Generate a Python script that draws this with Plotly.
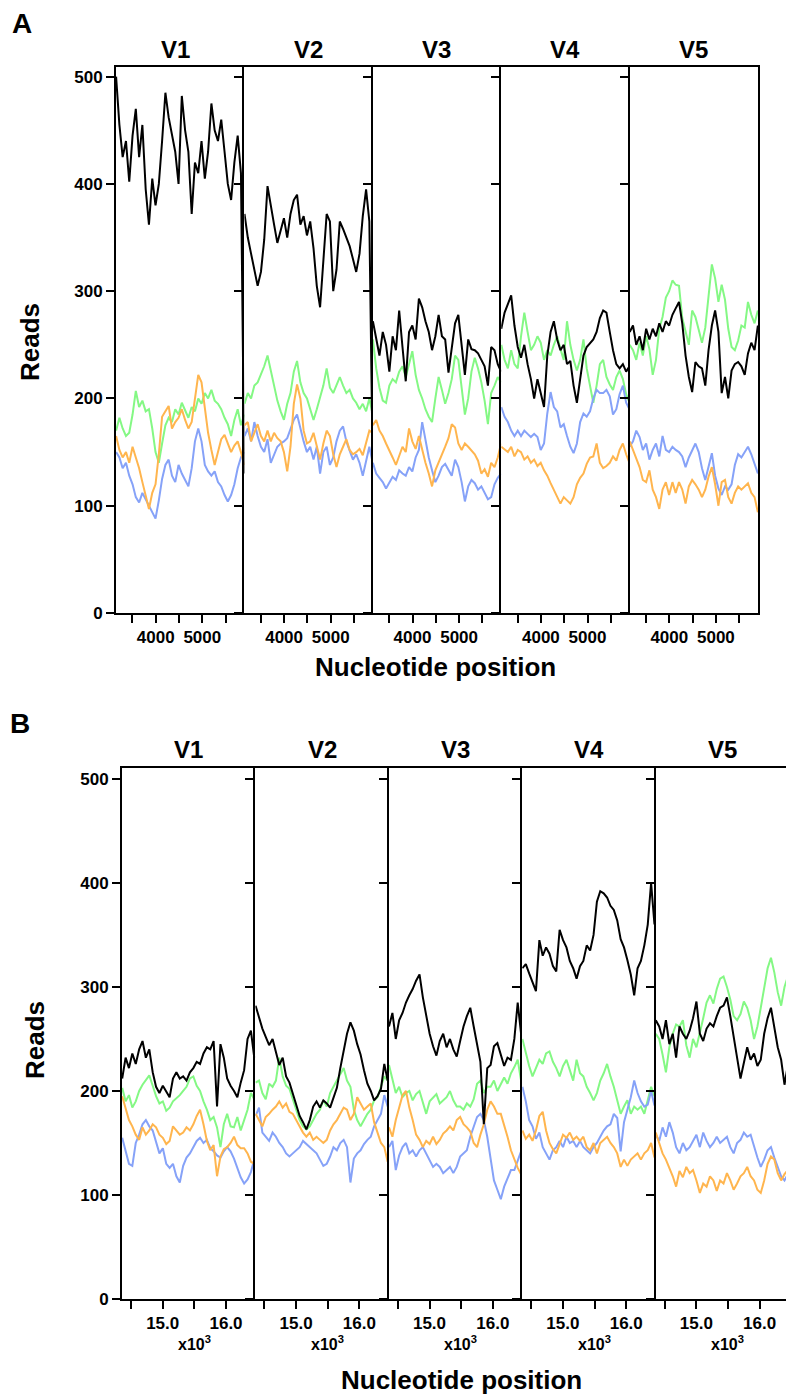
import plotly.graph_objects as go

W, H = 786, 1398

# ---------------- data ----------------
VARIANTS = ["V1", "V2", "V3", "V4", "V5"]
SERIES = ["green", "blue", "orange", "black"]

POS_A = [3150, 3221, 3291, 3362, 3432, 3503, 3573, 3644, 3714, 3785,
         3855, 3926, 3996, 4067, 4137, 4208, 4278, 4349, 4419, 4490,
         4560, 4631, 4701, 4772, 4842, 4913, 4983, 5054, 5124, 5195,
         5265, 5336, 5406, 5477, 5547, 5618, 5688, 5759, 5829, 5900]
POS_B = [14360, 14414, 14467, 14520, 14574, 14628, 14681, 14734, 14788, 14842,
         14895, 14948, 15002, 15056, 15109, 15162, 15216, 15270, 15323, 15376,
         15430, 15484, 15537, 15590, 15644, 15698, 15751, 15804, 15858, 15912,
         15965, 16018, 16072, 16126, 16179, 16232, 16286, 16340, 16393, 16446]

TICKS_A = [4000, 5000]
TICKTEXT_A = ["4000", "5000"]
MINOR_A = [3500, 4500, 5500]
TICKS_B = [15000, 16000]
TICKTEXT_B = ["15.0", "16.0"]
MINOR_B = [14500, 15500]
Y_TICKS = [0, 100, 200, 300, 400, 500]

# Panel A
A_V1_black = [500, 455, 425, 440, 402, 445, 470, 425, 455, 395, 362, 405, 380, 400, 440, 485, 462, 445, 430, 400,
              482, 450, 430, 372, 420, 410, 440, 405, 430, 475, 450, 440, 460, 430, 400, 385, 420, 445, 410, 130]
A_V1_green = [170, 182, 172, 165, 168, 185, 207, 192, 198, 188, 190, 172, 150, 140, 158, 175, 182, 178, 190, 185,
              196, 188, 182, 192, 188, 200, 195, 205, 200, 208, 198, 195, 190, 182, 176, 165, 180, 190, 175, 185]
A_V1_orange = [165, 152, 145, 150, 140, 155, 145, 135, 122, 108, 97, 112, 120, 148, 183, 188, 193, 172, 178, 182,
               190, 180, 172, 178, 200, 222, 215, 190, 168, 152, 138, 150, 162, 166, 158, 150, 156, 160, 150, 138]
A_V1_blue = [150, 145, 135, 140, 128, 120, 108, 103, 112, 106, 100, 94, 88, 105, 125, 138, 143, 128, 122, 138,
             130, 124, 118, 135, 160, 172, 160, 138, 132, 128, 132, 122, 118, 110, 104, 110, 120, 135, 145, 150]

A_V2_black = [372, 350, 335, 318, 305, 318, 348, 398, 378, 362, 345, 358, 368, 350, 372, 385, 390, 362, 370, 352,
              365, 340, 305, 285, 330, 372, 365, 300, 320, 365, 358, 350, 342, 330, 318, 335, 370, 395, 365, 140]
A_V2_green = [195, 205, 200, 212, 215, 222, 230, 240, 225, 212, 198, 188, 180, 195, 205, 225, 235, 215, 205, 200,
              190, 180, 190, 200, 212, 228, 210, 205, 212, 220, 212, 205, 208, 200, 196, 190, 195, 188, 200, 185]
A_V2_orange = [175, 178, 160, 168, 176, 165, 160, 170, 160, 168, 163, 160, 150, 132, 155, 195, 213, 200, 170, 158,
               160, 168, 155, 143, 158, 170, 165, 148, 136, 148, 155, 162, 152, 148, 150, 153, 147, 160, 170, 168]
A_V2_blue = [165, 172, 160, 178, 165, 155, 150, 162, 140, 148, 155, 158, 160, 163, 172, 180, 185, 172, 160, 150,
             155, 143, 155, 130, 150, 155, 138, 145, 160, 170, 174, 160, 152, 143, 148, 140, 128, 142, 155, 140]

A_V3_black = [272, 255, 240, 262, 250, 225, 258, 245, 282, 248, 216, 262, 268, 255, 293, 285, 272, 262, 245, 258,
              278, 258, 255, 224, 248, 270, 278, 252, 222, 255, 246, 245, 242, 236, 230, 212, 248, 245, 232, 225]
A_V3_green = [255, 228, 210, 198, 196, 212, 218, 215, 225, 230, 220, 232, 244, 222, 208, 200, 190, 183, 178, 200,
              220, 208, 195, 205, 218, 240, 236, 210, 185, 200, 225, 238, 228, 215, 198, 176, 205, 212, 220, 215]
A_V3_orange = [175, 180, 170, 165, 158, 152, 145, 138, 146, 155, 150, 172, 160, 153, 165, 152, 140, 130, 118, 133,
               140, 148, 155, 163, 176, 173, 158, 152, 158, 155, 152, 148, 142, 130, 134, 127, 140, 136, 145, 158]
A_V3_blue = [140, 130, 126, 122, 116, 122, 127, 124, 133, 130, 128, 136, 132, 145, 152, 178, 162, 145, 133, 122,
             128, 136, 139, 133, 128, 143, 136, 122, 104, 118, 124, 121, 115, 118, 112, 106, 108, 120, 126, 130]

A_V4_black = [265, 280, 288, 296, 268, 248, 238, 250, 232, 218, 200, 218, 205, 192, 240, 262, 272, 255, 245, 250,
              232, 235, 212, 196, 218, 240, 248, 252, 255, 262, 275, 282, 280, 262, 245, 232, 228, 232, 225, 230]
A_V4_green = [250, 236, 228, 245, 232, 228, 258, 280, 262, 245, 250, 258, 252, 236, 245, 240, 250, 258, 246, 236,
              272, 250, 236, 226, 236, 255, 228, 210, 196, 212, 232, 236, 220, 213, 208, 220, 226, 218, 204, 196]
A_V4_orange = [155, 152, 150, 155, 146, 152, 150, 143, 146, 140, 143, 137, 140, 133, 128, 121, 115, 108, 102, 108,
               105, 102, 108, 120, 126, 130, 139, 145, 146, 158, 140, 135, 137, 140, 146, 142, 152, 158, 148, 140]
A_V4_blue = [192, 183, 178, 170, 165, 170, 165, 170, 167, 164, 167, 164, 152, 158, 186, 206, 192, 188, 173, 176,
             165, 155, 149, 158, 178, 186, 183, 188, 200, 208, 205, 205, 208, 202, 185, 190, 204, 212, 196, 190]

A_V5_black = [262, 268, 250, 258, 245, 265, 255, 265, 258, 270, 262, 272, 268, 278, 284, 290, 270, 240, 220, 206,
              234, 230, 228, 212, 245, 268, 282, 262, 205, 220, 200, 226, 232, 234, 230, 222, 242, 252, 245, 268]
A_V5_green = [250, 245, 236, 252, 240, 258, 246, 222, 236, 265, 276, 294, 300, 310, 306, 305, 275, 262, 250, 282,
              276, 264, 252, 266, 296, 325, 312, 290, 306, 292, 265, 248, 245, 254, 268, 266, 290, 278, 270, 282]
A_V5_orange = [160, 152, 145, 136, 124, 122, 133, 115, 108, 97, 115, 122, 110, 122, 112, 122, 115, 102, 118, 124,
               120, 115, 108, 115, 127, 136, 120, 100, 122, 124, 108, 102, 112, 118, 115, 118, 121, 112, 108, 94]
A_V5_blue = [155, 160, 170, 164, 152, 158, 143, 152, 158, 146, 165, 152, 150, 155, 152, 150, 146, 136, 145, 152,
             158, 150, 135, 124, 136, 149, 128, 116, 110, 118, 115, 120, 138, 148, 145, 150, 155, 148, 140, 130]

# Panel B
B_V1_black = [212, 232, 222, 236, 226, 240, 248, 232, 240, 218, 204, 198, 205, 200, 194, 212, 218, 212, 214, 210,
              218, 222, 228, 226, 236, 242, 240, 248, 185, 245, 232, 212, 205, 200, 194, 208, 220, 250, 258, 232]
B_V1_green = [203, 190, 196, 184, 190, 200, 206, 210, 215, 205, 195, 188, 190, 181, 184, 190, 193, 196, 200, 204,
              212, 214, 205, 200, 190, 182, 172, 175, 165, 146, 168, 178, 166, 165, 175, 162, 172, 182, 198, 192]
B_V1_orange = [195, 184, 172, 166, 158, 153, 165, 158, 162, 168, 165, 158, 155, 149, 152, 166, 162, 158, 160, 165,
               162, 168, 176, 182, 168, 152, 143, 148, 118, 137, 144, 146, 150, 156, 148, 145, 145, 140, 132, 130]
B_V1_blue = [155, 142, 130, 128, 150, 158, 168, 172, 166, 162, 152, 140, 145, 130, 126, 130, 118, 112, 128, 136,
             140, 146, 152, 155, 150, 153, 145, 142, 138, 136, 142, 146, 142, 135, 126, 117, 111, 115, 122, 134]

B_V2_black = [282, 270, 260, 252, 244, 250, 238, 225, 232, 214, 208, 198, 186, 176, 170, 163, 172, 185, 190, 184,
              191, 188, 184, 193, 203, 222, 240, 255, 266, 258, 245, 235, 220, 207, 200, 191, 195, 202, 226, 210]
B_V2_green = [208, 210, 198, 192, 207, 204, 210, 232, 214, 205, 202, 192, 182, 172, 166, 163, 166, 172, 178, 182,
              191, 185, 198, 204, 210, 217, 222, 210, 204, 182, 172, 166, 172, 178, 182, 191, 194, 204, 214, 210]
B_V2_orange = [178, 172, 166, 175, 178, 182, 185, 190, 184, 188, 180, 178, 172, 165, 160, 156, 160, 153, 156, 153,
               150, 153, 162, 168, 172, 178, 184, 182, 172, 178, 194, 188, 182, 185, 188, 170, 160, 150, 146, 132]
B_V2_blue = [176, 184, 160, 156, 152, 160, 156, 150, 146, 140, 137, 140, 143, 146, 152, 149, 146, 143, 140, 134,
             128, 130, 137, 146, 143, 150, 153, 146, 112, 135, 140, 143, 149, 153, 156, 166, 172, 178, 196, 185]

B_V3_black = [262, 275, 250, 268, 275, 285, 292, 298, 306, 312, 290, 272, 255, 243, 234, 248, 255, 242, 250, 240,
              233, 248, 262, 272, 280, 262, 244, 228, 168, 222, 225, 243, 246, 236, 224, 232, 230, 250, 285, 255]
B_V3_green = [225, 210, 198, 204, 194, 198, 200, 191, 197, 200, 188, 178, 190, 194, 197, 188, 191, 194, 200, 191,
              185, 185, 182, 188, 185, 192, 207, 210, 198, 204, 204, 210, 200, 207, 213, 207, 217, 223, 230, 210]
B_V3_orange = [165, 156, 172, 185, 196, 200, 184, 172, 158, 153, 146, 152, 149, 156, 149, 153, 159, 162, 166, 162,
               172, 175, 168, 165, 161, 150, 146, 158, 168, 182, 190, 185, 178, 178, 168, 156, 143, 134, 126, 120]
B_V3_blue = [146, 152, 124, 138, 146, 150, 140, 143, 137, 143, 146, 140, 134, 127, 130, 127, 121, 124, 127, 121,
             127, 137, 140, 143, 156, 166, 175, 178, 172, 156, 134, 114, 105, 96, 108, 116, 124, 124, 134, 142]

B_V4_black = [318, 322, 313, 305, 296, 345, 330, 338, 332, 320, 315, 355, 345, 338, 325, 318, 308, 320, 325, 340,
              335, 350, 382, 392, 390, 386, 378, 374, 364, 346, 338, 326, 312, 292, 318, 325, 340, 360, 400, 360]
B_V4_green = [250, 236, 224, 214, 222, 230, 226, 236, 238, 228, 222, 214, 224, 230, 220, 210, 230, 217, 214, 204,
              198, 191, 198, 210, 217, 226, 214, 204, 191, 178, 185, 191, 178, 185, 182, 185, 178, 191, 204, 195]
B_V4_orange = [162, 154, 158, 152, 162, 176, 180, 162, 150, 144, 140, 150, 158, 155, 160, 153, 156, 152, 156, 146,
               143, 150, 140, 150, 153, 156, 150, 146, 140, 127, 134, 128, 134, 137, 140, 134, 140, 143, 150, 136]
B_V4_blue = [204, 190, 172, 166, 154, 160, 146, 140, 134, 143, 146, 152, 146, 156, 150, 152, 146, 152, 146, 143,
             140, 146, 150, 156, 162, 166, 168, 178, 174, 142, 170, 182, 194, 210, 198, 190, 185, 187, 200, 186]

B_V5_black = [268, 262, 250, 268, 245, 255, 232, 262, 255, 250, 258, 270, 286, 255, 248, 260, 265, 262, 272, 280,
              282, 290, 272, 250, 232, 212, 228, 242, 230, 236, 224, 230, 255, 270, 280, 262, 242, 230, 206, 225]
B_V5_green = [255, 250, 235, 218, 242, 255, 264, 262, 268, 244, 232, 250, 242, 255, 270, 285, 292, 284, 298, 308,
              310, 300, 288, 272, 268, 274, 286, 280, 268, 250, 262, 280, 300, 318, 328, 314, 295, 282, 300, 310]
B_V5_orange = [160, 150, 140, 134, 126, 118, 108, 123, 117, 127, 121, 124, 114, 102, 111, 108, 118, 114, 104, 114,
               111, 121, 114, 105, 111, 118, 121, 127, 118, 114, 105, 102, 114, 130, 137, 134, 121, 114, 120, 124]
B_V5_blue = [158, 152, 165, 156, 170, 160, 146, 140, 150, 143, 146, 152, 158, 146, 160, 152, 146, 150, 156, 150,
             153, 156, 146, 140, 150, 153, 160, 156, 158, 146, 136, 127, 134, 143, 146, 136, 127, 118, 114, 120]

DATA_A = {
    "V1": {"black": A_V1_black, "green": A_V1_green, "orange": A_V1_orange, "blue": A_V1_blue},
    "V2": {"black": A_V2_black, "green": A_V2_green, "orange": A_V2_orange, "blue": A_V2_blue},
    "V3": {"black": A_V3_black, "green": A_V3_green, "orange": A_V3_orange, "blue": A_V3_blue},
    "V4": {"black": A_V4_black, "green": A_V4_green, "orange": A_V4_orange, "blue": A_V4_blue},
    "V5": {"black": A_V5_black, "green": A_V5_green, "orange": A_V5_orange, "blue": A_V5_blue},
}
DATA_B = {
    "V1": {"black": B_V1_black, "green": B_V1_green, "orange": B_V1_orange, "blue": B_V1_blue},
    "V2": {"black": B_V2_black, "green": B_V2_green, "orange": B_V2_orange, "blue": B_V2_blue},
    "V3": {"black": B_V3_black, "green": B_V3_green, "orange": B_V3_orange, "blue": B_V3_blue},
    "V4": {"black": B_V4_black, "green": B_V4_green, "orange": B_V4_orange, "blue": B_V4_blue},
    "V5": {"black": B_V5_black, "green": B_V5_green, "orange": B_V5_orange, "blue": B_V5_blue},
}

# ---------------- style ----------------
COLORS = {"green": "#84F884", "blue": "#86A2F8", "orange": "#FFB54E", "black": "#000000"}
LINE_W = {"green": 2.0, "blue": 2.0, "orange": 2.0, "black": 2.0}
FONT = "Liberation Sans, Arial, Helvetica, sans-serif"
TICK_FONT = dict(family=FONT, size=17, color="black", weight="bold")

PANELS = [
    dict(label="A", pos=POS_A, data=DATA_A, left=116, width=128.4, top=67, bottom=613,
         xr=[3148, 5903], yr=[0, 509], tickvals=TICKS_A, ticktext=TICKTEXT_A, minor=MINOR_A,
         letter_xy=(22, 23), title_y=49.5, reads_xy=(30, 342), xlab_xy=(435, 667), mult=False),
    dict(label="B", pos=POS_B, data=DATA_B, left=122, width=133.4, top=768, bottom=1299,
         xr=[14357, 16464], yr=[0, 510.5], tickvals=TICKS_B, ticktext=TICKTEXT_B, minor=MINOR_B,
         letter_xy=(20, 723), title_y=749, reads_xy=(35, 1040), xlab_xy=(461, 1380), mult=True),
]

fig = go.Figure()
layout = {}
annotations = []


def fx(px):
    return px / W


def fy(py):
    return 1 - py / H


for p, pan in enumerate(PANELS):
    for k, v in enumerate(VARIANTS):
        idx = p * 5 + k + 1
        xn = "x" if idx == 1 else f"x{idx}"
        yn = "y" if idx == 1 else f"y{idx}"
        x0 = pan["left"] + k * pan["width"]
        x1 = x0 + pan["width"]
        xr = list(pan["xr"])
        clipped = False
        if x1 > W:
            xr[1] = xr[0] + (xr[1] - xr[0]) * (W - x0) / pan["width"]
            x1 = W
            clipped = True
        layout["xaxis" if idx == 1 else f"xaxis{idx}"] = dict(
            domain=[fx(x0), fx(x1)], range=xr, anchor=yn,
            showline=True, linecolor="black", linewidth=2, mirror=True,
            ticks="outside", ticklen=8, tickwidth=2, tickcolor="black",
            tickmode="array", tickvals=pan["tickvals"], ticktext=pan["ticktext"],
            minor=dict(tickmode="array", tickvals=pan["minor"], ticks="outside",
                       ticklen=8, tickwidth=2, tickcolor="black", showgrid=False),
            tickfont=TICK_FONT, showgrid=False, zeroline=False, fixedrange=True)
        layout["yaxis" if idx == 1 else f"yaxis{idx}"] = dict(
            domain=[fy(pan["bottom"]), fy(pan["top"])], range=pan["yr"], anchor=xn,
            showline=True, linecolor="black", linewidth=2,
            mirror=(k == 4 and not clipped),
            ticks="outside", ticklen=8, tickwidth=2, tickcolor="black",
            tickvals=Y_TICKS, showticklabels=(k == 0),
            tickfont=TICK_FONT, showgrid=False, zeroline=False, fixedrange=True)
        for s in SERIES:
            fig.add_trace(go.Scatter(
                x=pan["pos"], y=pan["data"][v][s], mode="lines", xaxis=xn, yaxis=yn,
                line=dict(color=COLORS[s], width=LINE_W[s]), showlegend=False, hoverinfo="skip"))
        # column title
        cx = (x0 + pan["left"] + (k + 1) * pan["width"]) / 2
        if pan["label"] == "A" and k == 0:
            cx -= 5
        annotations.append(dict(x=fx(cx), y=fy(pan["title_y"]), xref="paper", yref="paper",
                                text=v, showarrow=False, xanchor="center", yanchor="middle",
                                font=dict(family=FONT, size=24, color="black", weight="bold")))
        if pan["mult"]:
            annotations.append(dict(x=fx(x0 + 72), y=fy(1343), xref="paper", yref="paper",
                                    text="x10<sup>3</sup>", showarrow=False, xanchor="center",
                                    yanchor="middle",
                                    font=dict(family=FONT, size=16, color="black", weight="bold")))
    lx, ly = pan["letter_xy"]
    annotations.append(dict(x=fx(lx), y=fy(ly), xref="paper", yref="paper", text=pan["label"],
                            showarrow=False, xanchor="center", yanchor="middle",
                            font=dict(family=FONT, size=28, color="black", weight="bold")))
    rx, ry = pan["reads_xy"]
    annotations.append(dict(x=fx(rx), y=fy(ry), xref="paper", yref="paper", text="Reads",
                            textangle=-90, showarrow=False, xanchor="center", yanchor="middle",
                            font=dict(family=FONT, size=26, color="black", weight="bold")))
    nx, ny = pan["xlab_xy"]
    annotations.append(dict(x=fx(nx), y=fy(ny), xref="paper", yref="paper",
                            text="Nucleotide position", showarrow=False,
                            xanchor="center", yanchor="middle",
                            font=dict(family=FONT, size=26, color="black", weight="bold")))

fig.update_layout(**layout)
fig.update_layout(
    width=W, height=H, margin=dict(l=0, r=0, t=0, b=0, autoexpand=False),
    paper_bgcolor="white", plot_bgcolor="white",
    annotations=annotations, showlegend=False,
    font=dict(family=FONT, color="black"),
)

fig.write_html("out.html", config={"displayModeBar": False},
               post_script="document.body.style.margin='0';document.body.style.padding='0';")
